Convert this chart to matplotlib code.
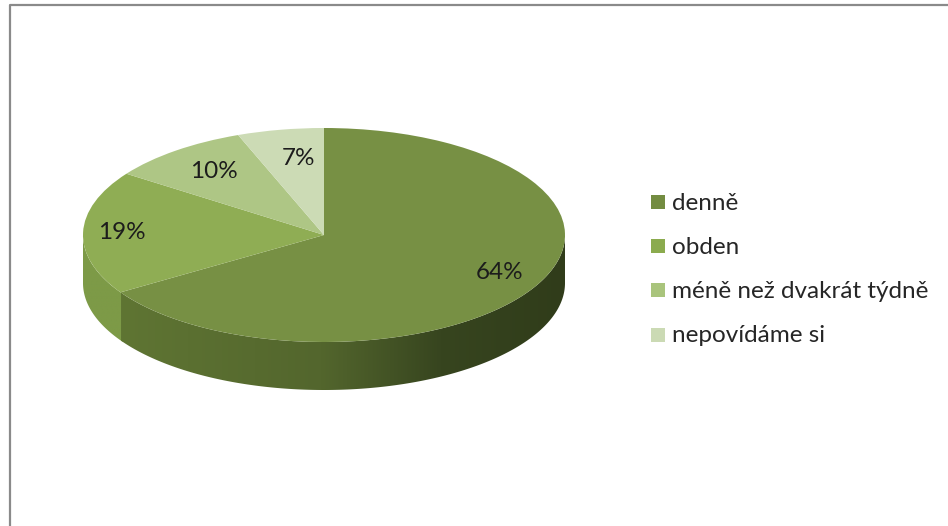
import numpy as np
import matplotlib
matplotlib.use("Agg")
import matplotlib.pyplot as plt
from matplotlib.colors import to_rgb
from matplotlib.patches import Rectangle, Polygon
from matplotlib.lines import Line2D

plt.rcParams['font.family'] = ['Lato', 'DejaVu Sans']

categories = ["denně", "obden", "méně než dvakrát týdně", "nepovídáme si"]
percent_labels = ["64%", "19%", "10%", "7%"]
# slice shares as drawn in the tilted projection of the picture
drawn_shares = [66.0, 18.7, 9.5, 5.8]
top_colors = ["#779044", "#8fad54", "#aec685", "#ccdbb5"]
legend_colors = ["#738c41", "#8bab4e", "#a9c47c", "#cbdab4"]
wall_stops = [[(0.0, "#5f7533"), (0.45, "#53662d"), (0.72, "#37451f"), (1.0, "#303c1a")],
              [(0.0, "#7d9a47"), (1.0, "#7d9a47")]]
label_px = [(500, 272.5), (122, 232.5), (214, 171.5), (298, 158.5)]
legend_y_px = [202, 246, 290, 335]

W, H = 948, 526
CX, CY, RX, RY, DEPTH = 324, 235, 241, 107, 48

fig = plt.figure(figsize=(W / 100, H / 100), dpi=100, facecolor="white")
ax = fig.add_axes([0, 0, 1, 1])

wedges, _ = ax.pie(drawn_shares, colors=top_colors, startangle=90, counterclock=False,
                   radius=1, wedgeprops=dict(linewidth=0))
for w in wedges:
    w.set_zorder(5)

def px(x, y):
    return (x - CX) / RX, (CY - y) / RY

def gradient(stops, n=256):
    ts = [s[0] for s in stops]
    cs = np.array([to_rgb(s[1]) for s in stops])
    t = np.linspace(0, 1, n)
    return np.stack([np.interp(t, ts, cs[:, i]) for i in range(3)], axis=-1).reshape(1, n, 3)

# side wall: the visible lower half of each slice that reaches it
depth = DEPTH / RY
edges = 90 - np.cumsum([0] + drawn_shares) * 3.6
spans = [(edges[1], 0.0), (-180.0, edges[1] + 1.0)]
for idx, ((a_from, a_to), stops) in enumerate(zip(spans, wall_stops)):
    th = np.radians(np.linspace(a_from, a_to, 300))
    x, y = np.cos(th), np.sin(th)
    outline = np.column_stack([np.r_[x, x[::-1]], np.r_[y, y[::-1] - depth]])
    clip = Polygon(outline, closed=True, transform=ax.transData, facecolor="none", edgecolor="none")
    ax.add_patch(clip)
    im = ax.imshow(gradient(stops), extent=(x.min(), x.max(), y.min() - depth, y.max()),
                   aspect="auto", interpolation="bilinear", zorder=3 - idx * 0.1)
    im.set_clip_path(clip)

ax.set_aspect("auto")
ax.set_xlim(-CX / RX, (W - CX) / RX)
ax.set_ylim((CY - H) / RY, CY / RY)
ax.axis("off")

for lab, (lx, ly) in zip(percent_labels, label_px):
    ax.text(*px(lx, ly), lab, fontsize=17.5, color="#1c1c1c", ha="center", va="center", zorder=6)

for name, col, ly in zip(categories, legend_colors, legend_y_px):
    fig.add_artist(Rectangle((651 / W, 1 - (ly + 7) / H), 14 / W, 14 / H,
                             transform=fig.transFigure, facecolor=col, edgecolor="none"))
    fig.text(672 / W, 1 - (ly + 1) / H, name, fontsize=17.5, color="#262626", ha="left", va="center")

# frame around the pasted chart: top and left only reach the image edge
fig.add_artist(Line2D([10 / W, 10 / W, 1], [0, 1 - 5 / H, 1 - 5 / H],
                      transform=fig.transFigure, color="#8a8a8a", lw=1.6))

fig.savefig("out.png", dpi=100, facecolor="white")
